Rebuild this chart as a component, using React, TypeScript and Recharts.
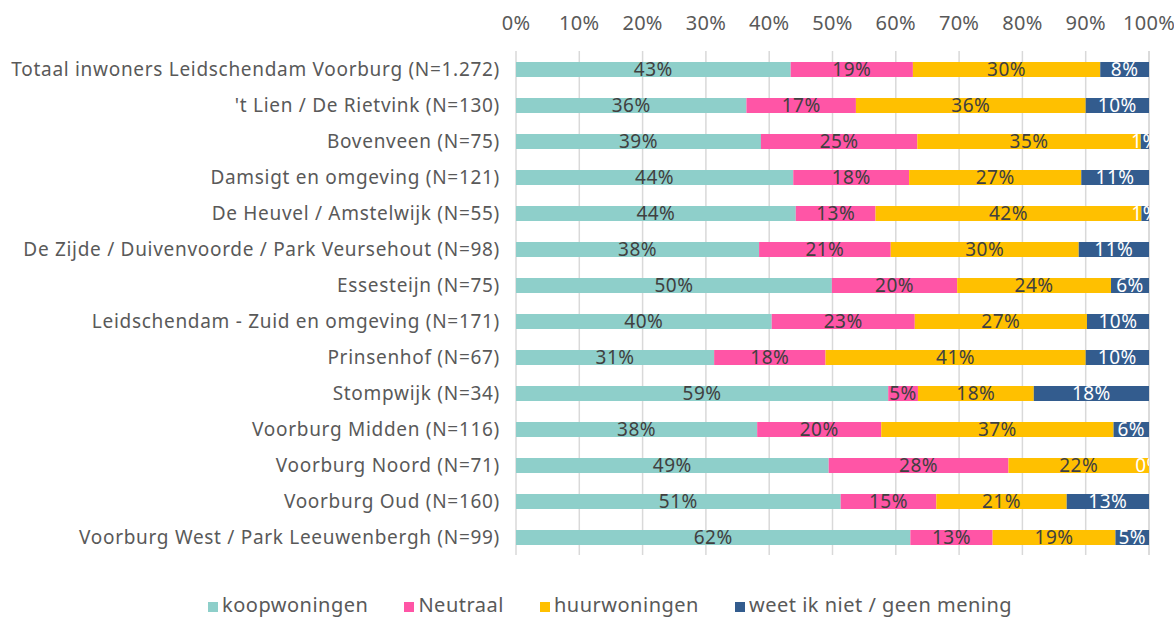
import React from 'react';
import { BarChart, Bar, XAxis, YAxis, CartesianGrid, Legend, LabelList } from 'recharts';

const categories = [
  'Totaal inwoners Leidschendam Voorburg (N=1.272)',
  "'t Lien / De Rietvink (N=130)",
  'Bovenveen (N=75)',
  'Damsigt en omgeving (N=121)',
  'De Heuvel / Amstelwijk (N=55)',
  'De Zijde / Duivenvoorde / Park Veursehout (N=98)',
  'Essesteijn (N=75)',
  'Leidschendam - Zuid en omgeving (N=171)',
  'Prinsenhof (N=67)',
  'Stompwijk (N=34)',
  'Voorburg Midden (N=116)',
  'Voorburg Noord (N=71)',
  'Voorburg Oud (N=160)',
  'Voorburg West / Park Leeuwenbergh (N=99)',
];

const koopwoningen = [43.4, 36.4, 38.7, 43.8, 44.2, 38.4, 49.9, 40.4, 31.3, 58.8, 38.1, 49.4, 51.3, 62.3];
const neutraal = [19.3, 17.3, 24.7, 18.3, 12.6, 20.8, 19.8, 22.6, 17.6, 4.7, 19.6, 28.4, 15.1, 13.0];
const huurwoningen = [29.6, 36.3, 35.3, 27.2, 42.0, 29.7, 24.3, 27.2, 41.1, 18.3, 36.7, 22.2, 20.6, 19.4];
const weetNiet = [7.7, 10.0, 1.3, 10.7, 1.2, 11.1, 6.0, 9.8, 10.0, 18.2, 5.6, 0, 13.0, 5.3];

const xTicks = [0, 10, 20, 30, 40, 50, 60, 70, 80, 90, 100];

const seriesNames = ['koopwoningen', 'Neutraal', 'huurwoningen', 'weet ik niet / geen mening'];
const seriesColors = ['#8ECFCA', '#FF55A6', '#FFC000', '#335C8E'];

const data = categories.map((name, i) => ({
  name,
  koop: koopwoningen[i],
  neutraal: neutraal[i],
  huur: huurwoningen[i],
  weet: weetNiet[i],
}));

const FONT = "'Noto Sans', sans-serif";
const TEXT = '#595959';

const fmt = (v: any) => `${Math.round(Number(v))}%`;

const textProps = (cx: number, cy: number, color: string) => ({
  x: cx,
  y: cy,
  dy: '0.36em',
  textAnchor: 'middle' as const,
  fill: color,
  fontSize: 19,
  fontFamily: FONT,
  letterSpacing: 0.5,
});

const makeLabel = (color: string, isLastBeforeEmpty: boolean) => (props: any) => {
  const { x, y, width, height, value, index } = props;
  const nx = Number(x);
  const ny = Number(y);
  const nw = Number(width);
  const nh = Number(height);
  const cy = ny + nh / 2;
  const main = <text {...textProps(nx + nw / 2, cy, color)}>{fmt(value)}</text>;
  if (isLastBeforeEmpty && weetNiet[index] === 0) {
    const id = `clip-zero-${index}`;
    const endX = nx + nw;
    return (
      <g>
        {main}
        <defs>
          <clipPath id={id}>
            <rect x={endX - 40} y={ny - 10} width={40} height={nh + 20} />
          </clipPath>
        </defs>
        <text {...textProps(endX, cy, '#FFFFFF')} clipPath={`url(#${id})`}>
          {fmt(weetNiet[index])}
        </text>
      </g>
    );
  }
  return main;
};

export default function App() {
  const keys = ['koop', 'neutraal', 'huur', 'weet'];
  const labelColors = ['#404040', '#404040', '#404040', '#FFFFFF'];
  return (
    <div style={{ position: 'absolute', left: 0, top: 0, width: 1174, height: 617, background: '#fff', fontFamily: FONT }}>
      <BarChart
        width={1174}
        height={617}
        data={data}
        layout="vertical"
        margin={{ top: 0, right: 25, bottom: 35, left: 0 }}
        barSize={15}
      >
        <CartesianGrid horizontal={false} stroke="#D9D9D9" strokeWidth={1.5} />
        <XAxis
          type="number"
          orientation="top"
          domain={[0, 100]}
          ticks={xTicks}
          tickFormatter={(v: number) => `${v}%`}
          axisLine={false}
          tickLine={false}
          tickSize={0}
          tickMargin={21}
          height={51}
          tick={{ fill: TEXT, fontSize: 20, fontFamily: FONT, letterSpacing: 0.3 }}
          interval={0}
        />
        <YAxis
          type="category"
          dataKey="name"
          width={516}
          axisLine={false}
          tickLine={false}
          tickSize={0}
          tickMargin={16}
          interval={0}
          tick={{ fill: TEXT, fontSize: 19, fontFamily: FONT, letterSpacing: 0.7 }}
        />
        <Legend
          verticalAlign="bottom"
          iconType="square"
          iconSize={10}
          itemSorter={(item: any) => seriesNames.indexOf(item.value)}
          wrapperStyle={{ fontFamily: FONT, fontSize: 20, letterSpacing: 0.5, top: 591, left: 208, width: 'auto' }}
          formatter={(value: string) => <span style={{ color: TEXT, paddingRight: 26 }}>{value}</span>}
        />
        {keys.map((k, i) => (
          <Bar key={k} dataKey={k} name={seriesNames[i]} stackId="a" fill={seriesColors[i]} isAnimationActive={false}>
            <LabelList dataKey={k} content={makeLabel(labelColors[i], k === 'huur')} />
          </Bar>
        ))}
      </BarChart>
    </div>
  );
}
